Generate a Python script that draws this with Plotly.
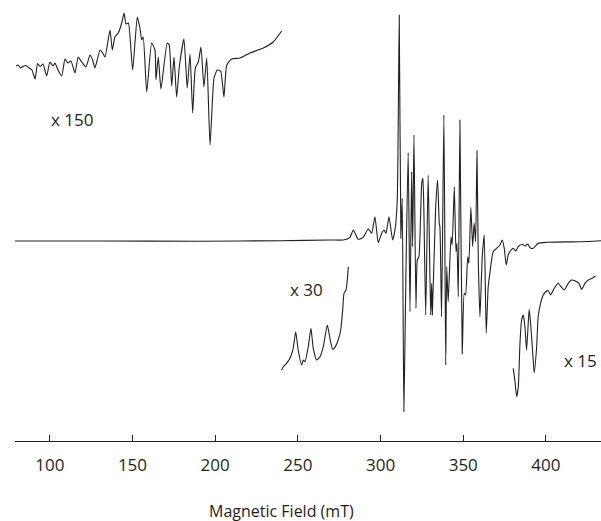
import plotly.graph_objects as go

# magnetic field (mT) and signal (a.u.)
main_field = [79.0, 130.4, 190.8, 239.2, 269.4, 277.4, 281.5, 283.5, 286.5, 289.5,
              292.6, 294.6, 296.6, 298.6, 300.7, 302.1, 303.3, 305.1, 307.3, 308.7,
              310.1, 311.3, 312.3, 313.1, 314.1, 315.4, 316.7, 317.8, 318.8, 319.4,
              320.2, 321.4, 322.2, 323.2, 324.9, 325.6, 326.2, 327.3, 328.8, 330.3,
              330.9, 331.3, 333.3, 334.5, 335.5, 335.9, 336.9, 338.3, 339.4, 340.0,
              340.9, 342.6, 343.3, 344.6, 345.6, 346.2, 347.0, 348.0, 349.4, 350.6,
              351.4, 352.7, 353.4, 354.6, 355.7, 356.6, 357.5, 358.3, 359.1, 360.1,
              361.5, 362.7, 363.9, 365.1, 366.1, 368.1, 370.2, 372.2, 373.6, 374.8,
              376.0, 377.2, 378.9, 380.3, 381.7, 383.3, 385.7, 387.4, 389.0, 390.4,
              392.3, 395.3, 400.4, 420.5, 433.3]
main_signal = [0, 0, -0.3, 0.3, 1, 1, 3.7, 11, 1.7, 3.7,
               12.3, 7.7, 24.3, -1.7, 7.7, 11, 7.7, 24.3, 1, 11,
               41, 226, 2.7, 42.7, -170.7, -25.7, 88.3, -70.7, 69.3, -5.7,
               106, -67.3, -19, -15.7, 57.7, 62.7, 30, -74, 66, -74,
               -42.3, -74, 32.7, 61, 17.7, 14.3, -75.7, 126, -124, -25.7,
               -60.7, 4.3, -4, 54.3, -10.7, -2.3, -55.7, 121, -113, -52.3,
               -54, -15.7, -22.3, 33.7, -5.7, 18.3, -0.7, 90.3, -19, -75.7,
               -15.7, 6, -92.3, -45.7, -32.3, -10.7, -7.3, -4, 1, -7.3,
               -24, -14, -9, -7.3, -10, -5.7, -3.3, -5, -3, -6.7,
               -7.3, -2.3, -1.3, -0.7, 0.3]

# x 150 expansion (low field), drawn with offset
x150_field = [79.6, 80.8, 82.3, 83.8, 85.6, 87.4, 89.2, 91.1, 92.6, 94.1,
              95.9, 98.1, 100.1, 101.9, 103.1, 105.0, 107.2, 109.2, 111.0, 112.8,
              115.2, 117.2, 119.3, 121.9, 124.3, 125.9, 127.3, 130.4, 132.0, 133.4,
              136.4, 137.8, 139.4, 141.4, 143.5, 144.9, 146.1, 147.5, 150.1, 152.9,
              154.5, 155.6, 156.5, 158.6, 161.6, 163.6, 164.2, 165.6, 167.2, 171.0,
              172.2, 173.7, 175.1, 176.7, 178.3, 181.1, 183.1, 184.8, 186.4, 188.0,
              189.8, 191.4, 193.2, 194.9, 196.9, 199.3, 201.3, 203.3, 205.3, 207.0,
              210.0, 215.0, 221.0, 229.1, 235.1, 240.2]
x150_signal = [175, 176, 173, 174.5, 175.5, 173, 171, 162, 177.5, 174.5,
               177, 165, 179, 175, 178, 171, 165, 182, 178, 180,
               168, 184, 179, 174, 186, 181, 173, 191, 188, 184,
               211, 191, 204, 208, 218, 228, 217, 218, 171, 224,
               213, 201, 204, 149, 198, 191, 161, 184, 152, 198,
               196, 155, 184, 144, 174, 202, 153, 187, 128, 173,
               179, 194, 154, 183, 96, 163, 171, 170, 144, 176,
               182, 183, 188, 193, 199, 210]

# x 30 expansion
x30_field = [240.2, 241.2, 243.2, 245.2, 247.2, 248.7, 250.2, 252.3, 253.3, 254.3,
             256.3, 257.9, 259.3, 261.4, 263.4, 265.4, 267.8, 269.4, 271.0, 272.4,
             274.4, 275.9, 277.1, 277.9, 279.1, 279.9, 280.5]
x30_signal = [-129, -125.7, -122.3, -117.3, -107.3, -90.7, -109, -124, -119, -120.7,
              -105.7, -87.3, -107.3, -119, -115.7, -105.7, -84, -97.3, -108.3, -106.3,
              -99, -89, -69, -52.3, -49, -39, -25.7]

# x 15 expansion (high field)
x15_field = [380.2, 381.2, 382.3, 383.3, 384.3, 385.3, 386.3, 387.3, 388.3, 389.3,
             389.9, 390.9, 392.3, 392.9, 394.4, 395.3, 397.0, 398.4, 399.8, 401.4,
             402.8, 405.0, 407.4, 409.1, 411.1, 413.5, 415.5, 417.5, 419.9, 421.6,
             423.6, 425.6, 428.0, 430.0]
x15_signal = [-127.3, -139, -155.7, -145.7, -102.3, -79, -74, -85.7, -109, -82.3,
              -68.3, -85.7, -119, -131.7, -105.7, -75.7, -60.7, -54, -50.7, -49.7,
              -54, -47.3, -42.3, -45.7, -49, -42.3, -39, -39.7, -42.3, -48.3,
              -42.3, -39, -37.3, -35]

tick_vals = [100, 150, 200, 250, 300, 350, 400]

ink = "#231f20"
fnt = "Open Sans"

fig = go.Figure()
for xs, ys in [(main_field, main_signal), (x150_field, x150_signal),
               (x30_field, x30_signal), (x15_field, x15_signal)]:
    fig.add_trace(go.Scatter(x=xs, y=ys, mode="lines",
                             line=dict(color=ink, width=1.1, shape="spline", smoothing=0.5),
                             showlegend=False, hoverinfo="skip"))

fig.update_xaxes(range=[78.96, 433.3], tickvals=tick_vals, ticks="inside",
                 ticklen=6, tickcolor=ink, tickwidth=1, showline=True,
                 linecolor=ink, linewidth=1.2, showgrid=False, zeroline=False,
                 tickfont=dict(family=fnt, size=17, color=ink),
                 ticklabelstandoff=8)
fig.update_yaxes(range=[-200, 241], visible=False)

for txt, x, y in [("x 150", 113.4, 122), ("x 30", 255.5, -48.5), ("x 15", 420.6, -119)]:
    fig.add_annotation(x=x, y=y, xref="x", yref="y", text=txt, showarrow=False,
                       font=dict(family=fnt, size=17, color=ink))

fig.add_annotation(x=240.4, y=-0.159, xref="x", yref="paper", yanchor="middle",
                   text="Magnetic Field (mT)", showarrow=False,
                   font=dict(family=fnt, size=16, color=ink))

fig.update_layout(width=601, height=521, margin=dict(l=15, r=0, t=0, b=80),
                  paper_bgcolor="white", plot_bgcolor="white")

fig.write_html("out.html", config={"displayModeBar": False},
               post_script="document.body.style.margin='0';")
